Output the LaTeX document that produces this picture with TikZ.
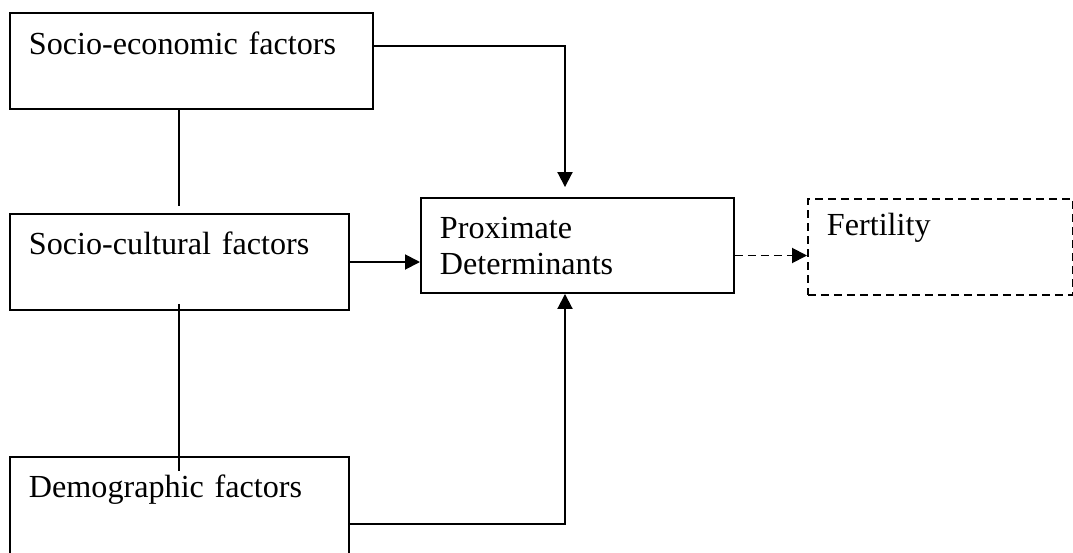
\documentclass[tikz,border=0pt]{standalone}
\usepackage{fontspec}
\setmainfont{Liberation Serif}
\usepackage{tikz}
\usetikzlibrary{arrows.meta, calc}

\tikzset{
	factor/.style={draw, rectangle, inner xsep=0.38cm, inner ysep=0pt, align=left, anchor=base west, font=\fontsize{18.3}{21}\selectfont},
	dashline/.style={dash pattern=on 0.16cm off 0.1cm},
}

\begin{document}
\begin{tikzpicture}[x=0.02cm, y=-0.02cm, line width=1.1pt, >={Triangle[length=0.3cm,width=0.3cm]}]
	\clip (0,0) rectangle (1073,552);
	\node[factor, text width=6.5cm, text height=0.82cm, text depth=1.1cm] (econ) at (9,54) {Socio-economic factors};
	\node[factor, text width=6.02cm, text height=0.8cm, text depth=1.12cm] (cult) at (9,254) {Socio-cultural factors};
	\node[factor, text width=6.02cm, text height=0.8cm, text depth=1.2cm] (demo) at (9,497) {Demographic factors};
	\node[factor, text width=5.5cm, text height=0.8cm, text depth=1.1cm] (prox) at (420,238) {Proximate\\Determinants};
	\node[factor, dashline, text width=4.54cm, text height=0.72cm, text depth=1.2cm] (fert) at (807,235) {Fertility};
	\coordinate (bend1) at (565,46);
	\coordinate (bend2) at (565,524);
	\draw[->] (econ.east |- bend1) -- (bend1) -- ([yshift=0.2cm]prox.north -| bend1);
	\draw[->] (cult.east) -- (cult.east -| prox.west);
	\draw[->] (demo.east |- bend2) -- (bend2) -- (bend2 |- prox.south);
	\draw[->, dashline] ([yshift=-0.2cm]prox.east) -- ([yshift=-0.2cm]prox.east -| fert.west);
	\draw (cult.north |- econ.south) -- ([yshift=0.14cm]cult.north);
	\draw ([yshift=0.14cm]cult.south) -- ([yshift=-0.3cm]demo.north);
\end{tikzpicture}
\end{document}
